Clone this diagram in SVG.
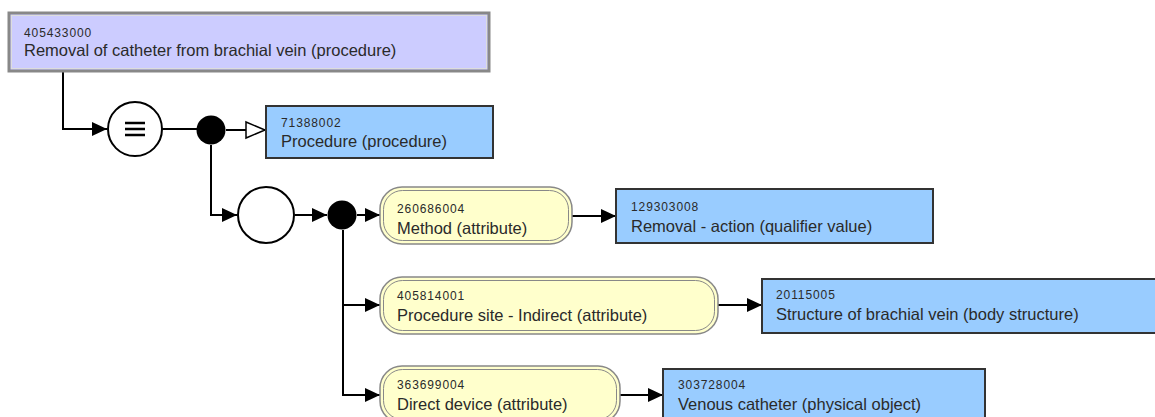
<svg xmlns="http://www.w3.org/2000/svg" width="1155" height="417" viewBox="0 0 1155 417">
<defs>
<marker id="arr" markerUnits="userSpaceOnUse" markerWidth="16" markerHeight="16" viewBox="0 0 16 16" refX="15" refY="8" orient="auto"><path d="M0,1 L15,8 L0,15 Z" fill="#000"/></marker>
<marker id="open" markerUnits="userSpaceOnUse" markerWidth="22" markerHeight="20" viewBox="0 0 22 20" refX="20" refY="10" orient="auto"><path d="M1,2 L20,10 L1,18 Z" fill="#fff" stroke="#000" stroke-width="1.5"/></marker>
</defs>
<style>
.id{font-family:"Liberation Sans",Arial,sans-serif;font-size:12px;letter-spacing:0.9px;fill:#2a2a2a}
.nm{font-family:"Liberation Sans",Arial,sans-serif;font-size:16.5px;fill:#2a2a2a}
.con{fill:none;stroke:#000;stroke-width:2}
.concept{fill:#99ccff;stroke:#333;stroke-width:2}
.attr{fill:#ffffcc;stroke:#888;stroke-width:1.5}
.attr2{fill:none;stroke:#888;stroke-width:1}
</style>
<g id="connectors">
<path class="con" d="M63,71 V129 H107" marker-end="url(#arr)"/>
<path class="con" d="M162,129 H197"/>
<path class="con" d="M226,130 H265" marker-end="url(#open)"/>
<path class="con" d="M211,145 V215 H237" marker-end="url(#arr)"/>
<path class="con" d="M295,215 H327" marker-end="url(#arr)"/>
<path class="con" d="M357,215 H380" marker-end="url(#arr)"/>
<path class="con" d="M343,230 V395 H380" marker-end="url(#arr)"/>
<path class="con" d="M343,305 H380" marker-end="url(#arr)"/>
<path class="con" d="M572,216 H616" marker-end="url(#arr)"/>
<path class="con" d="M718,305 H762" marker-end="url(#arr)"/>
<path class="con" d="M620,395 H663" marker-end="url(#arr)"/>
</g>
<g id="n405433000">
<rect x="9" y="13" width="480" height="58" fill="#ccccff" stroke="#888" stroke-width="3"/>
<rect x="11.5" y="15.5" width="475" height="53" fill="none" stroke="#ddd" stroke-width="1"/>
<text class="id" x="24" y="37">405433000</text>
<text class="nm" x="24" y="56">Removal of catheter from brachial vein (procedure)</text>
</g>
<g id="equiv">
<circle cx="135" cy="129" r="27" fill="#fff" stroke="#000" stroke-width="2"/>
<path d="M125,123 H145 M125,129 H145 M125,135 H145" stroke="#000" stroke-width="2.5"/>
</g>
<g id="conj1"><circle cx="211" cy="130" r="14.5" fill="#000"/></g>
<g id="n71388002">
<rect x="266" y="106" width="227" height="52" class="concept"/>
<text class="id" x="281" y="127">71388002</text>
<text class="nm" x="281" y="147">Procedure (procedure)</text>
</g>
<g id="group1"><circle cx="266" cy="215" r="28" fill="#fff" stroke="#000" stroke-width="2"/></g>
<g id="conj2"><circle cx="342" cy="215" r="14.5" fill="#000"/></g>
<g id="a260686004">
<rect x="380" y="187" width="192" height="57" rx="22" class="attr"/>
<rect x="383.5" y="190.5" width="185" height="50" rx="19" class="attr2"/>
<text class="id" x="397" y="213">260686004</text>
<text class="nm" x="397" y="234">Method (attribute)</text>
</g>
<g id="n129303008">
<rect x="616" y="189" width="317" height="54" class="concept"/>
<text class="id" x="631" y="211">129303008</text>
<text class="nm" x="631" y="232">Removal - action (qualifier value)</text>
</g>
<g id="a405814001">
<rect x="380" y="277" width="338" height="57" rx="22" class="attr"/>
<rect x="383.5" y="280.5" width="331" height="50" rx="19" class="attr2"/>
<text class="id" x="397" y="300">405814001</text>
<text class="nm" x="397" y="321">Procedure site - Indirect (attribute)</text>
</g>
<g id="n20115005">
<rect x="762" y="279" width="400" height="54" class="concept"/>
<text class="id" x="776" y="299">20115005</text>
<text class="nm" x="776" y="320">Structure of brachial vein (body structure)</text>
</g>
<g id="a363699004">
<rect x="380" y="366" width="240" height="57" rx="22" class="attr"/>
<rect x="383.5" y="369.5" width="233" height="50" rx="19" class="attr2"/>
<text class="id" x="397" y="389">363699004</text>
<text class="nm" x="397" y="410">Direct device (attribute)</text>
</g>
<g id="n303728004">
<rect x="663" y="369" width="322" height="54" class="concept"/>
<text class="id" x="678" y="389">303728004</text>
<text class="nm" x="678" y="410">Venous catheter (physical object)</text>
</g>
</svg>
